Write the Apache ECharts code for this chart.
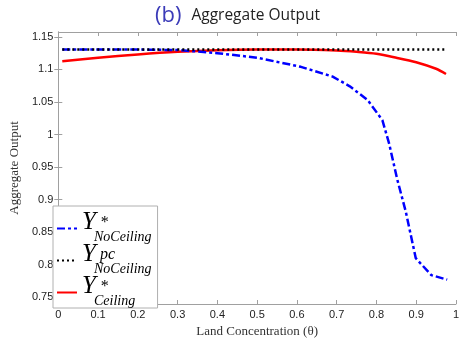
<!DOCTYPE html>
<html>
<head>
<meta charset="utf-8">
<script src="https://cdn.jsdelivr.net/npm/echarts@6/dist/echarts.min.js"></script>
<style>
  html, body { margin: 0; padding: 0; background: #fff; }
  #chart { width: 462px; height: 343px; }
</style>
</head>
<body>
<div id="chart"></div>
<script>
// Y*_NoCeiling (blue dashed)
const noCeilTheta = [0.01, 0.1, 0.2, 0.3, 0.35, 0.4, 0.5, 0.61, 0.69, 0.733, 0.778, 0.815, 0.832, 0.852, 0.874, 0.899, 0.938, 0.978];
const noCeilY     = [1.1306, 1.1306, 1.1305, 1.1298, 1.1275, 1.125, 1.118, 1.104, 1.089, 1.074, 1.053, 1.022, 0.986, 0.932, 0.881, 0.810, 0.784, 0.777];

// Y^pc_NoCeiling (black dotted)
const pcTheta = [0.01, 0.975];
const pcY     = [1.1306, 1.1306];

// Y*_Ceiling (red solid)
const ceilTheta = [0.01, 0.1, 0.2, 0.3, 0.4, 0.5, 0.6, 0.7, 0.75, 0.8, 0.85, 0.9, 0.95, 0.975];
const ceilY     = [1.1127, 1.118, 1.123, 1.127, 1.1295, 1.1305, 1.1305, 1.129, 1.127, 1.124, 1.118, 1.111, 1.101, 1.093];

const yTicks = [0.75, 0.8, 0.85, 0.9, 0.95, 1, 1.05, 1.1, 1.15];

const pairs = (xs, ys) => xs.map((x, i) => [x, ys[i]]);

const chart = echarts.init(document.getElementById('chart'));

const serif = '"Liberation Serif", "DejaVu Serif", serif';
const sans = '"Liberation Sans", Arial, sans-serif';
const frame = '#a0a0a0';

const legendRich = {
  Y: { fontFamily: serif, fontStyle: 'italic', fontSize: 25, color: '#000', lineHeight: 17, height: 17, verticalAlign: 'bottom' },
  sup: { fontFamily: serif, fontStyle: 'italic', fontSize: 16, color: '#000', lineHeight: 17, height: 17, verticalAlign: 'top' },
  sub: { fontFamily: serif, fontStyle: 'italic', fontSize: 14, color: '#000', lineHeight: 12, height: 12, padding: [0, 0, 0, 12] }
};

const labels = {
  'NoCeil': '{Y|Y}{sup| *}\n{sub|NoCeiling}',
  'PC': '{Y|Y}{sup| pc}\n{sub|NoCeiling}',
  'Ceil': '{Y|Y}{sup| *}\n{sub|Ceiling}'
};

const option = {
  animation: false,
  title: {
    text: '{b|(b)}  {t|Aggregate Output}',
    left: 150,
    top: 0,
    textStyle: {
      fontWeight: 'normal',
      rich: {
        b: { fontFamily: '"Open Sans", sans-serif', fontWeight: 'normal', fontSize: 22, color: '#3b3bb8' },
        t: { fontFamily: '"Open Sans", sans-serif', fontWeight: 'normal', fontSize: 15.5, color: '#222' }
      }
    }
  },
  grid: { left: 53, right: 4, top: 32, bottom: 31 },
  legend: {
    orient: 'vertical',
    left: 53,
    top: 206,
    padding: [4, 6, 0, 3],
    itemGap: -2,
    itemWidth: 20,
    itemHeight: 10,
    borderColor: '#b0b0b0',
    borderWidth: 1,
    borderRadius: 0,
    backgroundColor: '#fff',
    itemStyle: { opacity: 0 },
    data: ['NoCeil', 'PC', 'Ceil'],
    formatter: name => labels[name],
    textStyle: { rich: legendRich }
  },
  xAxis: [
    {
      type: 'value', min: 0, max: 1, interval: 0.1,
      name: 'Land Concentration (θ)', nameLocation: 'middle', nameGap: 21,
      nameTextStyle: { fontFamily: serif, fontSize: 13, color: '#333' },
      axisLine: { lineStyle: { color: frame } },
      axisTick: { inside: true, length: 4, lineStyle: { color: frame } },
      axisLabel: { fontFamily: sans, fontSize: 11, color: '#222', margin: 5, formatter: v => String(+v.toFixed(1)) },
      splitLine: { show: false }
    },
    {
      type: 'value', position: 'top', min: 0, max: 1, interval: 0.1,
      axisLine: { lineStyle: { color: frame } },
      axisTick: { inside: true, length: 4, lineStyle: { color: frame } },
      axisLabel: { show: false },
      splitLine: { show: false }
    }
  ],
  yAxis: [
    {
      type: 'value', min: 0.7396, max: 1.1575,
      name: 'Aggregate Output', nameLocation: 'middle', nameGap: 36,
      nameTextStyle: { fontFamily: serif, fontSize: 13, color: '#333' },
      axisLine: { show: true, lineStyle: { color: frame } },
      axisTick: { inside: true, length: 4, lineStyle: { color: frame }, customValues: yTicks },
      axisLabel: { fontFamily: sans, fontSize: 11, color: '#222', margin: 5, customValues: yTicks, formatter: v => String(+v.toFixed(2)) },
      splitLine: { show: false }
    },
    {
      type: 'value', position: 'right', min: 0.7396, max: 1.1575,
      axisLine: { show: true, lineStyle: { color: frame } },
      axisTick: { inside: true, length: 4, lineStyle: { color: frame }, customValues: yTicks },
      axisLabel: { show: false },
      splitLine: { show: false }
    }
  ],
  series: [
    {
      name: 'NoCeil', type: 'line', data: pairs(noCeilTheta, noCeilY),
      symbol: 'none', z: 3, color: '#0000ff',
      lineStyle: { color: '#0000ff', width: 2.5, type: [8, 3, 3, 3] }
    },
    {
      name: 'PC', type: 'line', data: pairs(pcTheta, pcY),
      symbol: 'none', z: 4, color: '#000',
      lineStyle: { color: '#000', width: 2.5, type: [2, 3] }
    },
    {
      name: 'Ceil', type: 'line', data: pairs(ceilTheta, ceilY),
      symbol: 'none', smooth: 0.3, z: 2, color: '#ff0000',
      lineStyle: { color: '#ff0000', width: 2.5 }
    }
  ]
};

chart.setOption(option);
</script>
</body>
</html>
